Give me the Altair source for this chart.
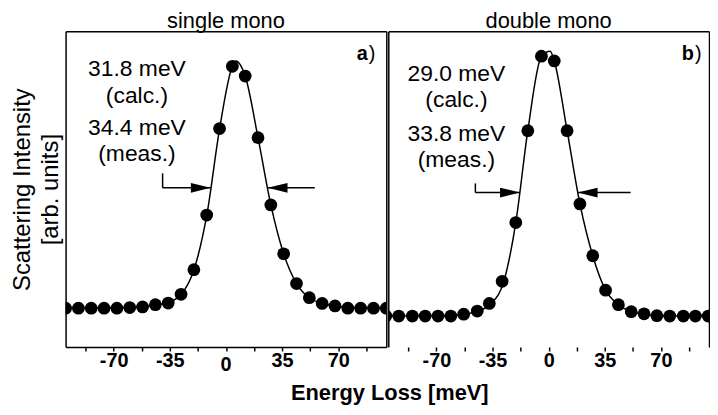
import altair as alt
import pandas as pd

FONT = "Liberation Sans"

# x-axis tick positions (meV) and the labelled ones
energy_ticks = [-87.5, -70, -52.5, -35, -17.5, 0, 17.5, 35, 52.5, 70, 87.5]
energy_labels = [-70, -35, 0, 35, 70]

# ---- panel a) single mono ----
single_pts_e = [-100, -92, -84, -76, -68, -60, -52, -44, -36, -28, -20, -12, -4,
                4, 12, 20, 28, 36, 44, 52, 60, 68, 76, 84, 92, 100]
single_pts_i = [123, 123, 123, 123, 123, 125, 127, 134, 139, 167, 245, 418, 692,
                889, 858, 663, 450, 295, 201, 156, 138, 130, 123, 123, 123, 123]
single_fit_e = [-100, -76, -60, -52, -44, -36, -28, -20, -12, -4, 4, 6.3, 12, 20,
                28, 36, 44, 52, 60, 68, 80, 100]
single_fit_i = [123, 123, 125, 127, 133, 141, 166, 244, 416, 690, 889, 906, 858, 663,
                450, 295, 201, 156, 138, 130, 124, 123]
single_notes = ["31.8 meV", "(calc.)", "34.4 meV", "(meas.)"]
single_notes_i = [858, 774, 670, 588]
single_notes_e = [-55.5, -55.5, -55.5, -55.5]
# FWHM markers: bracket x, bracket top, arrow level, left tip, right start, right tip
single_fwhm = [-39.5, 550, 504, -9.5, 55.4, 26.0]
single_label = ["a", ")"]
single_label_pos = [88.4, 909]

# ---- panel b) double mono ----
double_pts_e = [-101.5, -93.5, -85, -77, -69, -61, -53, -44.5, -37, -29, -20.5, -13,
                -4.5, 3.5, 11.5, 19.5, 27.5, 35.5, 43.5, 51.5, 59.5, 67.5, 75.5, 84,
                91.5, 99.5]
double_pts_i = [98, 98, 98, 98, 98, 98, 104, 114, 138, 208, 394, 685,
                921, 906, 685, 453, 289, 180, 134, 112, 105, 99, 98, 98,
                98, 98]
double_fit_e = [-100, -68, -60, -52, -44, -36, -28, -20.5, -13, -4.5, 1, 3.5, 11.5,
                19.5, 27.5, 35.5, 43.5, 51.5, 59.5, 68, 80, 100]
double_fit_i = [98, 98, 99, 104, 114, 137, 207, 394, 685, 921, 937, 906, 685,
                453, 289, 180, 134, 112, 104, 99, 98, 98]
double_notes = ["29.0 meV", "(calc.)", "33.8 meV", "(meas.)"]
double_notes_i = [843, 759, 654, 569]
double_notes_e = [-57.5, -57.5, -57.5, -57.5]
double_fwhm = [-45.7, 518, 489, -17.9, 51.1, 18.1]
double_label = ["b", ")"]
double_label_pos = [90.6, 908]

TITLES = ["single mono", "double mono"]
Y_TITLE = ["Scattering Intensity", "[arb. units]"]
X_TITLE = "Energy Loss [meV]"

HEAD_RIGHT = "M0,0 L-2,-0.5 L-2,0.5 Z"
HEAD_LEFT = "M0,0 L2,-0.5 L2,0.5 Z"

XS = alt.Scale(domain=[-100, 100], nice=False, zero=False)
YS = alt.Scale(domain=[0, 1000], nice=False, zero=False)


def edge_axis(orient):
    return alt.Axis(orient=orient, domain=True, domainColor="black", domainWidth=1.5,
                    labels=False, ticks=False, grid=False, title=None)


def tick_axis(with_line):
    # all (major + minor) ticks, no labels
    return alt.Axis(orient="bottom", values=energy_ticks, labels=False,
                    tickSize=4, tickWidth=1.5, tickColor="black",
                    domain=with_line, domainColor="black", domainWidth=1.5,
                    grid=False, title=None)


def label_axis(values):
    # labels on the major ticks, placed just below the tick axis
    return alt.Axis(orient="bottom", values=values,
                    labelExpr="'' + datum.value", ticks=False, domain=False,
                    grid=False, labelFont=FONT, labelFontSize=20, labelFontWeight="bold",
                    labelColor="black", labelPadding=4, labelFlush=False,
                    labelOverlap=False, labelBound=False, title=None)


def panel(title, pe, pi, fe, fi, notes, notes_i, notes_e, fwhm, label, label_pos, first):
    if first:
        y_main = alt.Axis(orient="left", title=Y_TITLE, labels=False, ticks=False,
                          domain=True, domainColor="black", domainWidth=1.5, grid=False,
                          titleFont=FONT, titleFontSize=24, titleFontWeight="normal",
                          titleColor="black", titlePadding=3, titleLineHeight=28)
        x_labels = label_axis([v for v in energy_labels if v != 0])
    else:
        y_main = edge_axis("left")
        x_labels = label_axis(energy_labels)
    x_ticks = tick_axis(first)
    x_top = edge_axis("top")
    y_right = edge_axis("right")

    def enc(xa=None, ya=None):
        return dict(x=alt.X("e:Q", scale=XS, axis=xa),
                    y=alt.Y("i:Q", scale=YS, axis=ya))

    pts = pd.DataFrame({"e": pe, "i": pi})
    fit = pd.DataFrame({"e": fe, "i": fi})
    bx, btop, lvl, ltip, rstart, rtip = fwhm
    segs = pd.DataFrame({"e": [bx, bx, rstart], "e2": [bx, ltip, rtip],
                         "i": [btop, lvl, lvl], "i2": [lvl, lvl, lvl]})
    head_r = pd.DataFrame({"e": [ltip], "i": [lvl]})
    head_l = pd.DataFrame({"e": [rtip], "i": [lvl]})
    txt = pd.DataFrame({"e": notes_e, "i": notes_i, "t": notes})
    lab1 = pd.DataFrame({"e": [label_pos[0]], "i": [label_pos[1]], "t": [label[0]]})
    lab2 = pd.DataFrame({"e": [label_pos[0]], "i": [label_pos[1]], "t": [label[1]]})

    dots = alt.Chart(pts).mark_circle(color="black", size=165, opacity=1,
                                      clip=True).encode(**enc(x_ticks, None))
    line = alt.Chart(fit).mark_line(color="black", strokeWidth=1.5,
                                    interpolate="monotone", clip=True).encode(
        **enc(x_top, y_right))
    rules = alt.Chart(segs).mark_rule(color="black", strokeWidth=1.5).encode(
        x2="e2:Q", y2="i2:Q", **enc(None, y_main))
    hr = alt.Chart(head_r).mark_point(shape=HEAD_RIGHT, size=400, filled=True,
                                      color="black", opacity=1).encode(**enc())
    hl = alt.Chart(head_l).mark_point(shape=HEAD_LEFT, size=400, filled=True,
                                      color="black", opacity=1).encode(**enc())
    notes_m = alt.Chart(txt).mark_text(font=FONT, fontSize=23, align="center",
                                       baseline="alphabetic", color="black").encode(
        text="t:N", **enc(x_labels, None))
    l1 = alt.Chart(lab1).mark_text(font=FONT, fontSize=20, fontWeight="bold", align="right",
                                   baseline="alphabetic", color="black").encode(
        text="t:N", **enc())
    l2 = alt.Chart(lab2).mark_text(font=FONT, fontSize=20, align="left", dx=1,
                                   baseline="alphabetic", color="black").encode(
        text="t:N", **enc())
    layers = [dots, line, rules, hr, hl, notes_m, l1, l2]
    if first:
        # the centre tick label of this panel, drawn as text just under the frame
        zero = pd.DataFrame({"e": [energy_labels[2]], "t": [str(energy_labels[2])]})
        zl = alt.Chart(zero).mark_text(font=FONT, fontSize=20, fontWeight="bold",
                                       align="center", baseline="top", color="black",
                                       dy=8).encode(
            x=alt.X("e:Q", scale=XS, axis=None),
            y=alt.value(318), text="t:N")
        layers.append(zl)
    return alt.layer(*layers).resolve_axis(
        x="independent", y="independent").properties(
        width=323, height=318,
        view=alt.ViewBackground(stroke="transparent"),
        title=alt.TitleParams(title, font=FONT, fontSize=22, fontWeight="normal",
                              color="black", offset=-2))


left = panel(TITLES[0], single_pts_e, single_pts_i, single_fit_e, single_fit_i,
             single_notes, single_notes_i, single_notes_e, single_fwhm,
             single_label, single_label_pos, True)
right = panel(TITLES[1], double_pts_e, double_pts_i, double_fit_e, double_fit_i,
              double_notes, double_notes_i, double_notes_e, double_fwhm,
              double_label, double_label_pos, False)

chart = alt.hconcat(left, right, spacing=0).properties(
    title=alt.TitleParams(X_TITLE, orient="bottom", anchor="middle", font=FONT,
                          fontSize=22, fontWeight="bold", color="black", offset=8, dx=30),
    padding={"left": 2, "top": 0, "right": 0, "bottom": 0},
).configure_view(stroke="transparent")

chart.save("out.html", embed_options={"renderer": "svg", "actions": False})
